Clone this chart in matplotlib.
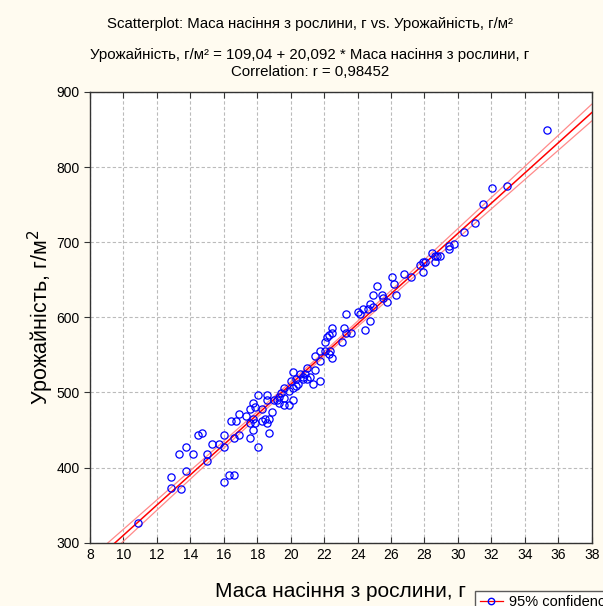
import numpy as np
import matplotlib
matplotlib.use("Agg")
import matplotlib.pyplot as plt
from matplotlib.lines import Line2D

plt.rcParams['font.family'] = ['Liberation Sans', 'DejaVu Sans']

# seed mass per plant, g
mass = [10.87, 12.86, 12.86, 13.44, 13.30, 13.74, 13.74, 14.16, 14.44, 14.72,
        15.02, 15.02, 15.30, 15.73, 16.03, 16.03, 16.03, 16.31, 16.61, 16.59,
        16.89, 16.45, 16.73, 16.89, 17.31, 17.59, 17.73, 17.89, 17.59, 17.73,
        17.89, 17.59, 17.73, 18.03, 18.03, 18.31, 18.31, 18.59, 18.59, 18.45,
        18.59, 18.72, 18.86, 18.72, 19.00, 19.28, 19.42, 19.60, 19.60, 19.60,
        19.88, 19.88, 20.02, 20.16, 20.16, 20.16, 20.30, 20.44, 20.58, 20.72,
        20.86, 21.00, 21.00, 21.14, 21.32, 21.48, 21.48, 21.75, 21.75, 21.75,
        22.03, 22.03, 22.17, 22.31, 22.31, 22.45, 22.45, 22.45, 23.05, 23.19,
        23.33, 23.33, 23.61, 24.03, 24.17, 24.33, 24.47, 24.61, 24.74, 24.74,
        24.90, 24.90, 25.18, 25.46, 25.50, 25.76, 26.04, 26.18, 26.32, 26.76,
        27.18, 27.73, 27.89, 28.03, 27.89, 28.45, 28.61, 28.77, 28.91, 28.61,
        29.45, 29.45, 29.77, 30.35, 31.04, 31.50, 32.06, 32.92, 35.35,
        19.16, 19.30, 22.35, 20.74, 20.30]
# yield, g/m2
yld = [325.7, 387.8, 372.2, 372.0, 417.5, 426.8, 395.5, 417.5, 443.2, 446.3,
       417.5, 409.0, 430.8, 430.8, 443.2, 427.7, 381.1, 390.5, 390.5, 440.0,
       443.2, 461.8, 461.8, 471.1, 468.0, 477.3, 486.6, 480.4, 458.7, 465.0,
       458.7, 440.0, 449.4, 427.7, 496.0, 477.3, 461.8, 496.0, 489.8, 465.0,
       458.7, 465.0, 474.2, 446.3, 489.8, 486.6, 499.0, 505.3, 492.9, 483.5,
       502.2, 483.5, 514.6, 505.3, 489.8, 527.0, 517.7, 511.5, 523.9, 520.8,
       523.9, 533.2, 517.7, 520.8, 511.5, 548.7, 530.1, 555.0, 542.5, 514.6,
       567.4, 555.0, 573.2, 576.3, 551.8, 586.0, 579.8, 545.6, 567.4, 586.0,
       604.6, 579.8, 579.8, 607.7, 604.6, 610.8, 582.9, 610.8, 617.1, 595.3,
       629.5, 614.0, 641.9, 629.5, 626.4, 620.1, 654.3, 645.0, 629.5, 657.4,
       654.3, 669.8, 673.0, 673.0, 660.5, 685.3, 682.2, 682.2, 682.2, 673.0,
       694.7, 691.6, 697.8, 713.3, 725.7, 750.5, 772.3, 775.4, 849.9,
       489.8, 494.0, 555.0, 517.8, 508.5]

intercept = 109.04
slope = 20.092
r_value = 0.98452

x = np.array(mass)
y = np.array(yld)
n = len(x)
resid = y - (intercept + slope * x)
s = np.sqrt(np.sum(resid ** 2) / (n - 2))
sxx = np.sum((x - x.mean()) ** 2)

xs = np.linspace(8, 38, 200)
fit = intercept + slope * xs
half = 1.98 * s * np.sqrt(1.0 / n + (xs - x.mean()) ** 2 / sxx)

fig = plt.figure(figsize=(6.03, 6.06), dpi=100, facecolor='#FFFBF0')
ax = fig.add_axes([0.1493, 0.1045, 0.8320, 0.7437])
ax.set_facecolor('white')

ax.plot(xs, fit + half, color='#FF8A8A', lw=0.9, zorder=2)
ax.plot(xs, fit - half, color='#FF8A8A', lw=0.9, zorder=2)
ax.plot(xs, fit, color='#FF0000', lw=1.1, zorder=3)
ax.plot(x, y, 'o', mfc='none', mec='#0000FF', ms=5.2, mew=0.9, zorder=4)

ax.set_xlim(8, 38)
ax.set_ylim(300, 900)
ax.set_xticks(np.arange(8, 39, 2))
ax.set_yticks(np.arange(300, 901, 100))
ax.grid(True, color='#BBBBBB', ls=(0, (3, 2)), lw=0.8)
ax.set_axisbelow(True)
ax.tick_params(axis='both', labelsize=10, length=4, color='#333333')
ax.tick_params(axis='x', direction='in', top=True)
ax.tick_params(axis='y', direction='out')
for sp in ax.spines.values():
    sp.set_linewidth(1.0)
    sp.set_color('#333333')

ax.set_xlabel('Маса насіння з рослини, г', fontsize=15, labelpad=15)
ax.set_ylabel('Урожайність, г/м$^2$', fontsize=15.5, labelpad=0)

fig.text(0.514, 0.960, 'Scatterplot: Маса насіння з рослини, г vs. Урожайність, г/м²',
         ha='center', va='center', fontsize=10.8)
fig.text(0.514, 0.909, 'Урожайність, г/м² = 109,04 + 20,092 * Маса насіння з рослини, г',
         ha='center', va='center', fontsize=10.8)
fig.text(0.514, 0.881, 'Correlation: r = {}'.format(str(r_value).replace('.', ',')),
         ha='center', va='center', fontsize=10.8)

handle = Line2D([], [], color='#FF0000', lw=0.9, marker='o', mfc='none',
                mec='#0000FF', ms=4.6)
fig.legend([handle], ['95% confidence'], loc='upper left',
           bbox_to_anchor=(0.788, 0.025), borderaxespad=0, fontsize=10.5,
           frameon=True, fancybox=False, edgecolor='#333333', handlelength=1.6,
           borderpad=0.3, handletextpad=0.4)

fig.savefig('out.png', dpi=100, facecolor=fig.get_facecolor())
